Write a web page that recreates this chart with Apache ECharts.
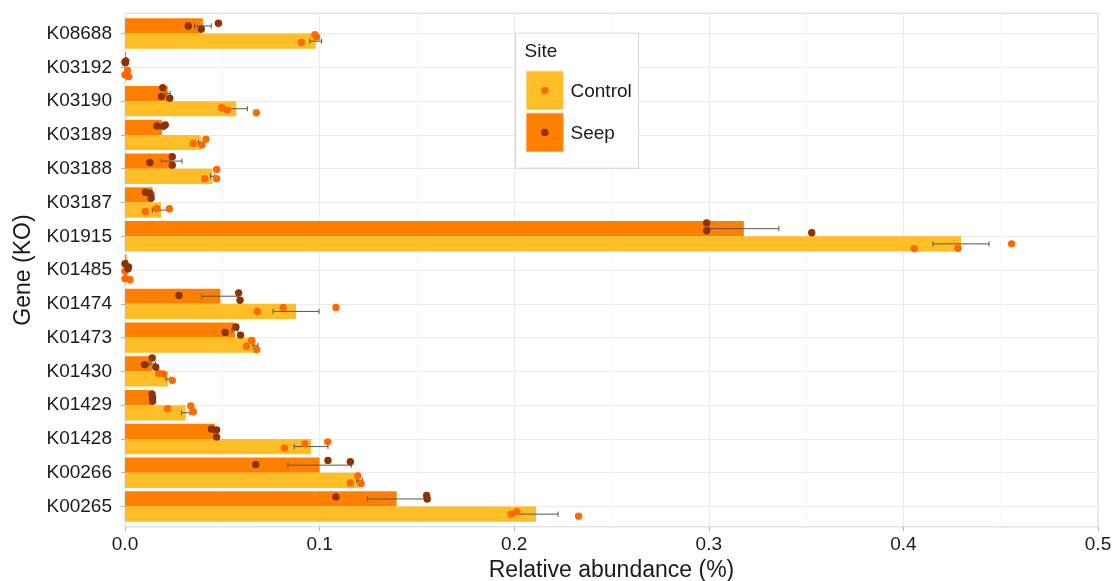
<!DOCTYPE html>
<html>
<head>
<meta charset="utf-8">
<script src="https://cdn.jsdelivr.net/npm/echarts@6/dist/echarts.min.js"></script>
<style>
html,body{margin:0;padding:0;background:#fff;}
#chart{width:1115px;height:581px;}
</style>
</head>
<body>
<div id="chart"></div>
<script>
// ---- data ----
const categories = ['K08688','K03192','K03190','K03189','K03188','K03187','K01915','K01485','K01474','K01473','K01430','K01429','K01428','K00266','K00265'];

const seepMean    = [0.040, 0.0006, 0.022, 0.019, 0.024, 0.0142, 0.318, 0.0008, 0.049, 0.0565, 0.014, 0.0145, 0.0462, 0.100, 0.1396];
const seepSE      = [0.0043, 0.0003, 0.0012, 0.001, 0.0053, 0.0007, 0.018, 0.0003, 0.0095, 0.0015, 0.0017, 0.0003, 0.0008, 0.0163, 0.015];
const controlMean = [0.098, 0.0004, 0.0572, 0.039, 0.045, 0.0185, 0.4296, 0.0006, 0.0879, 0.067, 0.0222, 0.0312, 0.0956, 0.1205, 0.2112];
const controlSE   = [0.003, 0.0003, 0.0057, 0.0013, 0.0011, 0.0045, 0.0144, 0.0003, 0.0118, 0.0013, 0.0011, 0.0022, 0.0087, 0.0015, 0.0113];

const seepPoints = [
  [0.0325, 0.0392, 0.048], [0.0, 0.0004, 0.0002], [0.0194, 0.0187, 0.023], [0.0164, 0.0207, 0.0197],
  [0.0243, 0.0243, 0.0128], [0.0105, 0.0128, 0.0134], [0.2989, 0.2989, 0.3529], [0.0, 0.0018, 0.0015],
  [0.0277, 0.0584, 0.0591], [0.057, 0.0515, 0.0594], [0.014, 0.0101, 0.0158], [0.0139, 0.0142, 0.0142],
  [0.0444, 0.0471, 0.0471], [0.0672, 0.1043, 0.1158], [0.1084, 0.155, 0.1553]
];
const seepJitter = [
  [0, 0.09, -0.08], [0.07, 0.04, 0.09], [-0.17, 0.09, 0.14], [-0.04, -0.07, -0.03],
  [-0.13, 0.12, 0.04], [-0.08, -0.05, 0.1], [-0.17, 0.06, 0.12], [0.04, 0.13, 0.19],
  [-0.02, -0.1, 0.12], [-0.09, 0.07, 0.15], [-0.17, 0.03, 0.1], [-0.1, 0, 0.11],
  [-0.07, -0.04, 0.17], [-0.02, -0.14, -0.1], [-0.06, -0.1, 0.0]
];
const controlPoints = [
  [0.0976, 0.0985, 0.0906], [0.0, 0.0013, 0.0019], [0.0497, 0.0526, 0.0675], [0.0351, 0.0396, 0.0416],
  [0.0471, 0.0471, 0.041], [0.0105, 0.0163, 0.0228], [0.4056, 0.428, 0.4556], [0.0, 0.0026, 0.0],
  [0.068, 0.0813, 0.1084], [0.0651, 0.0625, 0.0677], [0.0173, 0.0197, 0.0243], [0.0219, 0.0338, 0.0351],
  [0.0819, 0.0925, 0.1042], [0.1197, 0.1158, 0.1213], [0.1984, 0.2013, 0.2331]
];
const controlJitter = [
  [-0.19, -0.12, 0.04], [0, -0.13, 0.05], [-0.03, 0.04, 0.12], [0.03, 0.07, -0.1],
  [-0.2, 0.07, 0.07], [0.04, -0.04, -0.04], [0.14, 0.13, 0], [-0.19, 0.06, 0.03],
  [0, -0.12, -0.12], [-0.14, 0.03, 0.13], [-0.17, -0.15, 0.04], [-0.12, -0.2, -0.03],
  [0.04, -0.08, -0.14], [-0.13, 0.08, 0.09], [0, -0.07, 0.06]
];
const xTicks = [0, 0.1, 0.2, 0.3, 0.4, 0.5];
const xTickLabels = ['0.0', '0.1', '0.2', '0.3', '0.4', '0.5'];
const siteNames = ['Seep', 'Control'];

// ---- styling ----
const COL = {
  seepBar: '#FF8000', controlBar: '#FFBE26',
  seepPt: '#8C3300', controlPt: '#FF6A00',
  err: '#555555', grid: '#EBEBEB', minor: '#F5F5F5', border: '#D6D6D6', text: '#1A1A1A', tick: '#B3B3B3'
};
const FONT = '"Liberation Sans", Arial, Helvetica, sans-serif';
const DODGE = 0.225;

// build helper data for custom series
function pointData(pts, jit, grp) {
  const out = [];
  pts.forEach((arr, i) => arr.forEach((v, k) => out.push([v, i, jit[i][k], grp])));
  return out;
}
function errData(mean, se, grp) {
  return mean.map((m, i) => [m - se[i], m + se[i], i, grp]);
}

const pointRender = (color) => function (params, api) {
  const c = api.coord([api.value(0), api.value(1)]);
  const band = api.size([0, 1])[1];
  const off = (api.value(3) === 0 ? -DODGE : DODGE) + api.value(2);
  return { type: 'circle', shape: { cx: c[0], cy: c[1] + off * band, r: 3.7 }, style: { fill: color } };
};
function errRender(params, api) {
  const a = api.coord([api.value(0), api.value(2)]);
  const b = api.coord([api.value(1), api.value(2)]);
  const band = api.size([0, 1])[1];
  const y = a[1] + (api.value(3) === 0 ? -DODGE : DODGE) * band;
  const h = 2.6;
  const st = { stroke: COL.err, lineWidth: 1 };
  return { type: 'group', children: [
    { type: 'line', shape: { x1: a[0], y1: y, x2: b[0], y2: y }, style: st },
    { type: 'line', shape: { x1: a[0], y1: y - h, x2: a[0], y2: y + h }, style: st },
    { type: 'line', shape: { x1: b[0], y1: y - h, x2: b[0], y2: y + h }, style: st }
  ]};
}

const PANEL = { left: 125, right: 1098, top: 13.3, bottom: 526.8 };
const BAND = (PANEL.bottom - PANEL.top) / (categories.length + 0.2);
const dataTop = PANEL.top + 0.1 * BAND;
const dataHeight = BAND * categories.length;

const chart = echarts.init(document.getElementById('chart'), null, { renderer: 'canvas' });
chart.setOption({
  animation: false,
  backgroundColor: '#fff',
  textStyle: { fontFamily: FONT },
  grid: [
    { left: PANEL.left, top: PANEL.top, width: PANEL.right - PANEL.left, height: PANEL.bottom - PANEL.top,
      show: true, borderColor: COL.border, borderWidth: 1, backgroundColor: 'transparent',
      containLabel: false, outerBoundsMode: 'none' },
    { left: PANEL.left, top: dataTop, width: PANEL.right - PANEL.left, height: dataHeight,
      containLabel: false, outerBoundsMode: 'none' }
  ],
  xAxis: [
    { type: 'value', gridIndex: 0, min: xTicks[0], max: xTicks[xTicks.length - 1], interval: 0.1,
      axisLine: { show: false },
      axisTick: { show: true, length: 4, lineStyle: { color: COL.tick } },
      axisLabel: { fontSize: 19, color: COL.text, fontFamily: FONT, margin: 8,
        formatter: (v) => { const i = xTicks.findIndex(t => Math.abs(t - v) < 1e-9); return i >= 0 ? xTickLabels[i] : ''; } },
      splitLine: { show: true, lineStyle: { color: COL.grid, width: 1 } },
      minorTick: { show: false, splitNumber: 2 },
      minorSplitLine: { show: true, lineStyle: { color: COL.minor, width: 1 } },
      name: 'Relative abundance (%)', nameLocation: 'middle', nameGap: 31,
      nameTextStyle: { fontSize: 23, color: COL.text, fontFamily: FONT } },
    { type: 'value', gridIndex: 1, min: 0, max: 0.5, show: false }
  ],
  yAxis: [
    { type: 'value', gridIndex: 0, min: 0, max: 1,
      axisLine: { show: false }, axisTick: { show: false }, axisLabel: { show: false }, splitLine: { show: false },
      name: 'Gene (KO)', nameLocation: 'middle', nameRotate: 90, nameGap: 90,
      nameTextStyle: { fontSize: 23, color: COL.text, fontFamily: FONT } },
    { type: 'category', gridIndex: 1, data: categories, inverse: true,
      axisLine: { show: false },
      axisTick: { show: true, alignWithLabel: true, length: 4, lineStyle: { color: COL.tick } },
      axisLabel: { fontSize: 19, color: COL.text, fontFamily: FONT, margin: 13 },
      splitLine: { show: false } },
    { type: 'value', gridIndex: 1, min: -0.5, max: categories.length - 0.5, interval: 0.5, inverse: true,
      axisLine: { show: false }, axisTick: { show: false }, axisLabel: { show: false },
      splitLine: { show: true, lineStyle: { color: ['rgba(0,0,0,0)', COL.grid], width: 1 } } }
  ],
  series: [
    { name: siteNames[0], type: 'bar', xAxisIndex: 1, yAxisIndex: 1, data: seepMean,
      itemStyle: { color: COL.seepBar }, barCategoryGap: '10%', barGap: '0%', z: 2 },
    { name: siteNames[1], type: 'bar', xAxisIndex: 1, yAxisIndex: 1, data: controlMean,
      itemStyle: { color: COL.controlBar }, barCategoryGap: '10%', barGap: '0%', z: 2 },
    { type: 'custom', xAxisIndex: 1, yAxisIndex: 1, renderItem: errRender,
      data: errData(seepMean, seepSE, 0).concat(errData(controlMean, controlSE, 1)),
      encode: { x: [0, 1], y: 2 }, z: 3, silent: true },
    { type: 'custom', xAxisIndex: 1, yAxisIndex: 1, renderItem: pointRender(COL.controlPt),
      data: pointData(controlPoints, controlJitter, 1), encode: { x: 0, y: 1 }, z: 4, silent: true },
    { type: 'custom', xAxisIndex: 1, yAxisIndex: 1, renderItem: pointRender(COL.seepPt),
      data: pointData(seepPoints, seepJitter, 0), encode: { x: 0, y: 1 }, z: 4, silent: true }
  ],
  graphic: [
    { type: 'group', left: 515, top: 32.7, z: 100, children: [
      { type: 'rect', z: 100, shape: { x: 0, y: 0, width: 123, height: 135 }, style: { fill: '#fff', stroke: COL.border, lineWidth: 1 } },
      { type: 'text', z: 101, x: 9, y: 19, style: { text: 'Site', font: '19px ' + FONT, fill: COL.text, textVerticalAlign: 'middle' } },
      { type: 'rect', z: 101, shape: { x: 11, y: 38, width: 36.7, height: 38.3 }, style: { fill: COL.controlBar, stroke: '#FFD36B', lineWidth: 0.8 } },
      { type: 'circle', z: 102, shape: { cx: 29.3, cy: 57.2, r: 3.7 }, style: { fill: COL.controlPt } },
      { type: 'text', z: 101, x: 55, y: 58.5, style: { text: 'Control', font: '19px ' + FONT, fill: COL.text, textVerticalAlign: 'middle' } },
      { type: 'rect', z: 101, shape: { x: 11, y: 80, width: 36.7, height: 38.3 }, style: { fill: COL.seepBar, stroke: '#FFA64D', lineWidth: 0.8 } },
      { type: 'circle', z: 102, shape: { cx: 29.3, cy: 99.2, r: 3.7 }, style: { fill: COL.seepPt } },
      { type: 'text', z: 101, x: 55, y: 100.5, style: { text: 'Seep', font: '19px ' + FONT, fill: COL.text, textVerticalAlign: 'middle' } }
    ]}
  ]
});
</script>
</body>
</html>
